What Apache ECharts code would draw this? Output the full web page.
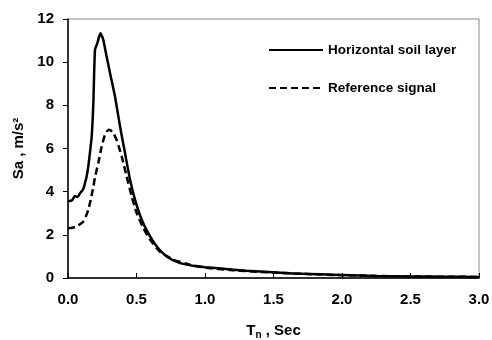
<!DOCTYPE html>
<html>
<head>
<meta charset="utf-8">
<script src="https://cdn.jsdelivr.net/npm/echarts@6/dist/echarts.min.js"></script>
<style>html,body{margin:0;padding:0;background:#fff;}#c{width:492px;height:340px;}</style>
</head>
<body>
<div id="c"></div>
<script>
var seriesNames = ['Horizontal soil layer', 'Reference signal'];
var xTicks = [0, 0.5, 1.0, 1.5, 2.0, 2.5, 3.0];
var tSoil = [0, 0.03, 0.05, 0.07, 0.088, 0.11, 0.124, 0.136, 0.148, 0.16, 0.173, 0.185, 0.197, 0.214, 0.228, 0.238, 0.248, 0.258, 0.282, 0.307, 0.343, 0.38, 0.416, 0.453, 0.489, 0.538, 0.586, 0.647, 0.72, 0.818, 0.939, 1.0, 1.1, 1.2, 1.3, 1.5, 1.65, 1.85, 2.0, 2.25, 2.5, 2.75, 3.0];
var saSoil = [3.55, 3.6, 3.8, 3.75, 3.93, 4.1, 4.4, 4.7, 5.17, 5.8, 6.56, 8.1, 10.57, 10.88, 11.2, 11.34, 11.2, 11.03, 10.26, 9.49, 8.41, 7.02, 5.79, 4.55, 3.63, 2.70, 2.08, 1.47, 1.0, 0.69, 0.54, 0.5, 0.45, 0.39, 0.34, 0.27, 0.21, 0.17, 0.14, 0.09, 0.07, 0.06, 0.05];
var tRef = [0, 0.03, 0.063, 0.09, 0.112, 0.13, 0.148, 0.165, 0.185, 0.2, 0.221, 0.246, 0.27, 0.285, 0.299, 0.315, 0.331, 0.355, 0.392, 0.428, 0.465, 0.501, 0.55, 0.6, 0.67, 0.77, 0.89, 1.0, 1.2, 1.5, 2.0, 2.5, 3.0];
var saRef = [2.31, 2.33, 2.39, 2.5, 2.62, 2.85, 3.16, 3.6, 4.24, 4.75, 5.32, 6.1, 6.64, 6.8, 6.87, 6.82, 6.71, 6.4, 5.63, 4.71, 3.78, 3.01, 2.31, 1.77, 1.23, 0.85, 0.62, 0.48, 0.36, 0.25, 0.13, 0.07, 0.05];

function pairs(xs, ys) { return xs.map(function (x, i) { return [x, ys[i]]; }); }

var chart = echarts.init(document.getElementById('c'));
var fnt = "'Liberation Sans', Arial, sans-serif";
chart.setOption({
  animation: false,
  backgroundColor: '#ffffff',
  grid: { left: 68, right: 13, top: 19, bottom: 62, show: true, borderColor: '#888888', borderWidth: 1, outerBoundsMode: 'none', containLabel: false },
  legend: {
    orient: 'vertical', left: 263, top: 38, itemGap: 24, itemWidth: 54, itemHeight: 14,
    itemStyle: { opacity: 0 },
    textStyle: { fontFamily: fnt, fontWeight: 'bold', fontSize: 13.5, color: '#000' },
    data: seriesNames
  },
  xAxis: {
    type: 'value', min: 0, max: 3.0, interval: 0.5,
    name: '{t|T}{s|n}{t| , Sec}', nameLocation: 'middle', nameGap: 44,
    nameTextStyle: { rich: { t: { fontFamily: fnt, fontWeight: 'bold', fontSize: 15, color: '#000' }, s: { fontFamily: fnt, fontWeight: 'bold', fontSize: 10, color: '#000', verticalAlign: 'bottom', padding: [8, 0, 0, 0] } } },
    axisLine: { lineStyle: { color: '#000', width: 1.5 } },
    axisTick: { inside: true, length: 5, lineStyle: { color: '#000' } },
    axisLabel: { margin: 14, fontFamily: fnt, fontWeight: 'bold', fontSize: 15, color: '#000', formatter: function (v) { return v.toFixed(1); } },
    splitLine: { show: false }
  },
  yAxis: {
    type: 'value', min: 0, max: 12, interval: 2,
    name: 'Sa , m/s²', nameLocation: 'middle', nameGap: 40,
    nameTextStyle: { fontFamily: fnt, fontWeight: 'bold', fontSize: 15, color: '#000' },
    axisLine: { show: true, lineStyle: { color: '#000', width: 1.5 } },
    axisTick: { show: true, inside: false, length: 5, lineStyle: { color: '#000' } },
    axisLabel: { margin: 14, fontFamily: fnt, fontWeight: 'bold', fontSize: 15, color: '#000' },
    splitLine: { show: false }
  },
  series: [
    { name: seriesNames[0], type: 'line', data: pairs(tSoil, saSoil), symbol: 'none', smooth: 0.2,
      lineStyle: { color: '#000', width: 2.5, type: 'solid' }, itemStyle: { color: '#000' }, z: 3 },
    { name: seriesNames[1], type: 'line', data: pairs(tRef, saRef), symbol: 'none', smooth: 0.2,
      lineStyle: { color: '#000', width: 2.5, type: [7, 4] }, itemStyle: { color: '#000' }, z: 2 }
  ]
});
</script>
</body>
</html>
